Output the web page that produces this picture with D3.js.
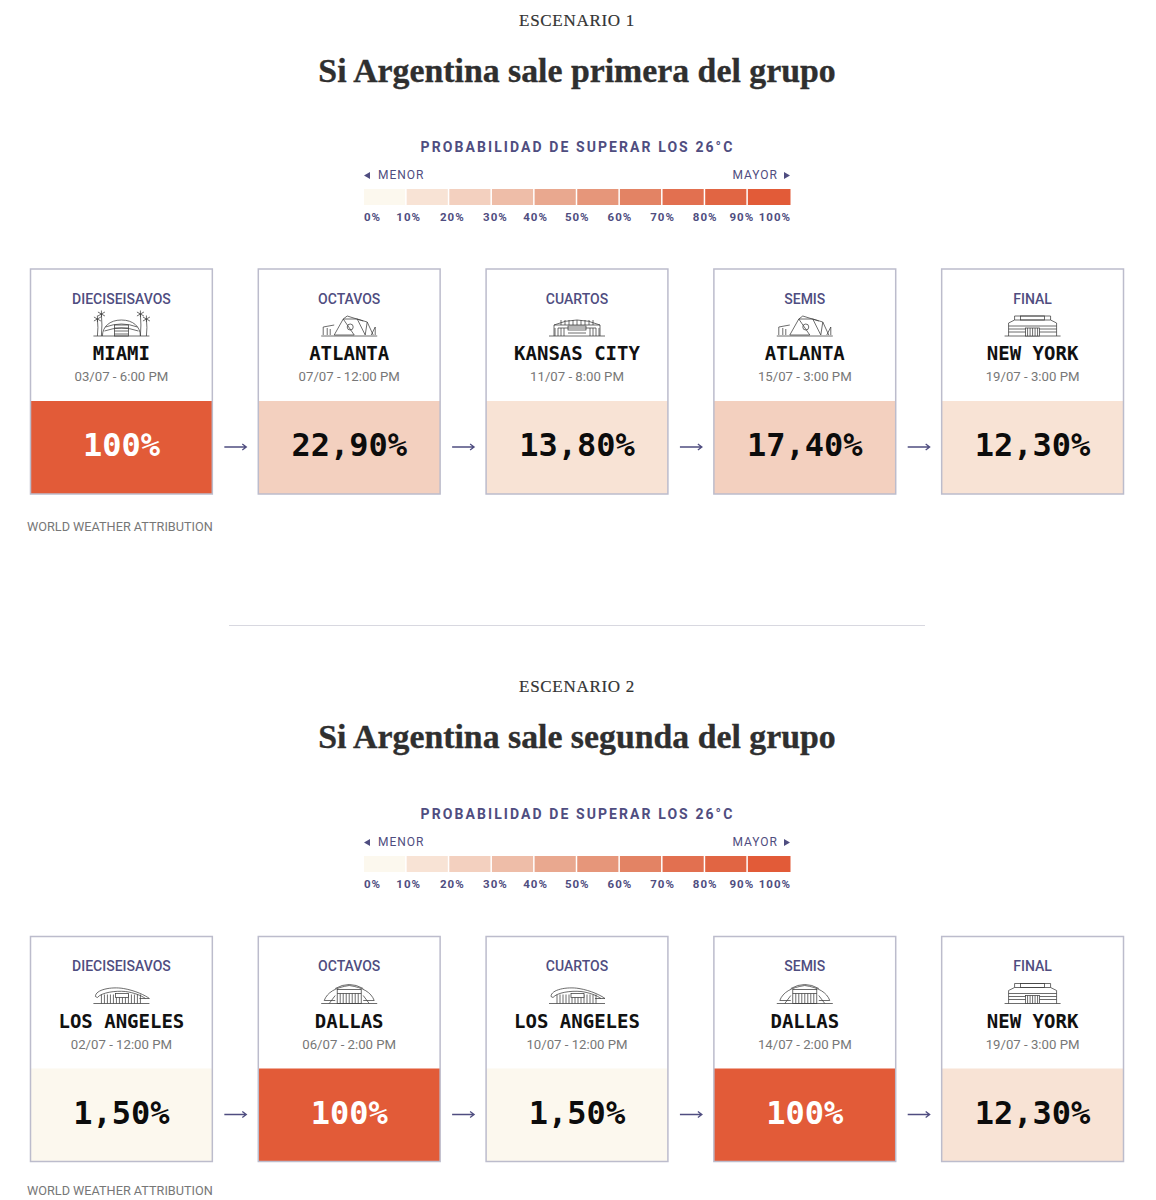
<!DOCTYPE html>
<html>
<head>
<meta charset="utf-8">
<script src="https://cdn.jsdelivr.net/npm/d3@7"></script>
<style>
  body { margin: 0; background: #fff; }
  text { font-family: Roboto, sans-serif; }
  .serif { font-family: "Liberation Serif", serif; }
  .mono { font-family: "DejaVu Sans Mono", monospace; font-weight: 700; }
</style>
</head>
<body>
<div id="chart"></div>
<script>
var width = 1156;
var height = 1200;

var rounds = ["DIECISEISAVOS", "OCTAVOS", "CUARTOS", "SEMIS", "FINAL"];

var scenarioLabels = ["ESCENARIO 1", "ESCENARIO 2"];
var scenarioTitles = ["Si Argentina sale primera del grupo", "Si Argentina sale segunda del grupo"];

var cities1 = ["MIAMI", "ATLANTA", "KANSAS CITY", "ATLANTA", "NEW YORK"];
var dates1 = ["03/07 - 6:00 PM", "07/07 - 12:00 PM", "11/07 - 8:00 PM", "15/07 - 3:00 PM", "19/07 - 3:00 PM"];
var values1 = [100, 22.9, 13.8, 17.4, 12.3];

var cities2 = ["LOS ANGELES", "DALLAS", "LOS ANGELES", "DALLAS", "NEW YORK"];
var dates2 = ["02/07 - 12:00 PM", "06/07 - 2:00 PM", "10/07 - 12:00 PM", "14/07 - 2:00 PM", "19/07 - 3:00 PM"];
var values2 = [1.5, 100, 1.5, 100, 12.3];

var legendTicks = [0, 10, 20, 30, 40, 50, 60, 70, 80, 90, 100];
var legendColors = ["#fcf8ee", "#f8e3d5", "#f3d0bf", "#eebda8", "#e9a88f", "#e6967a", "#e38364", "#e27050", "#e16543", "#e25b38"];

var navy = "#4f4d80";
var grey = "#777";
var ink = "#2f2f2f";

var svg = d3
  .select("#chart")
  .append("svg")
  .attr("width", width)
  .attr("height", height)
  .style("display", "block");

var cardX = d3.scaleBand().domain(d3.range(5)).range([30.5, 1123.5]).paddingInner(0.2018).paddingOuter(0);
var legendX = d3.scaleLinear().domain([0, 100]).range([364, 790.5]);
// the cards use the nearest legend step, not the bin they fall in
var cardColor = d3.scaleThreshold().domain([5, 15, 25, 35, 45, 55, 65, 75, 85]).range(legendColors);

var esLocale = d3.formatLocale({ decimal: ",", thousands: ".", grouping: [3], currency: ["", "%"] });
var twoDec = esLocale.format(".2f");
function formatValue(v) {
  return v === 100 ? "100%" : twoDec(v) + "%";
}

function drawHeader(g, i) {
  g.append("text")
    .attr("class", "serif")
    .attr("x", 577)
    .attr("y", 26)
    .attr("text-anchor", "middle")
    .attr("font-size", 17)
    .attr("letter-spacing", 0.7)
    .attr("fill", "#333")
    .attr("stroke", "#333")
    .attr("stroke-width", 0.2)
    .text(scenarioLabels[i]);
  g.append("text")
    .attr("class", "serif")
    .attr("x", 577)
    .attr("y", 82)
    .attr("text-anchor", "middle")
    .attr("font-size", 33.8)
    .attr("font-weight", 700)
    .attr("fill", ink)
    .attr("stroke", ink)
    .attr("stroke-width", 0.35)
    .text(scenarioTitles[i]);
}

function drawLegend(g) {
  g.append("text")
    .attr("x", 577.5)
    .attr("y", 151.5)
    .attr("text-anchor", "middle")
    .attr("font-size", 14)
    .attr("font-weight", 700)
    .attr("letter-spacing", 2.08)
    .attr("fill", navy)
    .text("PROBABILIDAD DE SUPERAR LOS 26°C");

  g.append("text").attr("x", 378).attr("y", 179).attr("font-size", 12).attr("letter-spacing", 1).attr("fill", navy).text("MENOR");
  g.append("text").attr("x", 778).attr("y", 179).attr("text-anchor", "end").attr("font-size", 12).attr("letter-spacing", 1).attr("fill", navy).text("MAYOR");
  g.append("path").attr("d", "M364 175.5l6-3.5v7z").attr("fill", navy);
  g.append("path").attr("d", "M790 175.5l-6-3.5v7z").attr("fill", navy);

  g.selectAll("rect.step")
    .data(legendColors)
    .enter()
    .append("rect")
    .attr("class", "step")
    .attr("x", function(d, i) { return legendX(legendTicks[i]); })
    .attr("y", 189)
    .attr("width", function(d, i) { return legendX(legendTicks[i + 1]) - legendX(legendTicks[i]) - (i < 9 ? 1.5 : 0); })
    .attr("height", 16)
    .attr("fill", function(d) { return d; });

  // tick labels sit a little off the step edges in the original
  var nudge = { 10: 2, 20: 3, 30: 3.5, 40: 1, 90: -6 };
  g.selectAll("text.tick")
    .data(legendTicks)
    .enter()
    .append("text")
    .attr("class", "tick")
    .attr("x", function(d) { return legendX(d) + (nudge[d] || 0) + (d === 100 ? 0.5 : 0); })
    .attr("y", 221)
    .attr("text-anchor", function(d) { return d === 0 ? "start" : d === 100 ? "end" : "middle"; })
    .attr("font-size", 11.5)
    .attr("font-weight", 700)
    .attr("letter-spacing", 1)
    .attr("fill", navy)
    .text(function(d) { return d + "%"; });
}

// small line drawings of each stadium, centred on x = 0 with the ground at y = 0
function stadium(g, city) {
  var p = g.append("g").attr("fill", "none").attr("stroke", "#3c3c3c").attr("stroke-width", 0.75);
  function line(d) { p.append("path").attr("d", d); }
  function columns(x0, x1, step, y0, y1) {
    d3.range(x0, x1 + 0.1, step).forEach(function(x) {
      line("M" + x + " " + y0 + "V" + y1);
    });
  }
  line("M-28 0H28");
  if (city === "MIAMI") {
    line("M-19 0C-19 -9 -12 -16 0 -16C12 -16 19 -9 19 0");
    line("M-16 -9Q0 -15 16 -9M-17 -5Q0 -11 17 -5");
    p.append("rect").attr("x", -7).attr("y", -11).attr("width", 14).attr("height", 11);
    line("M-7 -8H7M-7 -5H7M-7 -2H7");
    [[-24, -17], [-20, -22], [19, -22], [25, -17]].forEach(function(t) {
      line("M" + t[0] + " 0Q" + (t[0] + 1) + " " + t[1] / 2 + " " + t[0] + " " + t[1]);
      line("M" + (t[0] - 3.5) + " " + (t[1] + 2) + "L" + (t[0] + 3.5) + " " + (t[1] - 2) + "M" + (t[0] - 3.5) + " " + (t[1] - 2) + "L" + (t[0] + 3.5) + " " + (t[1] + 2) + "M" + t[0] + " " + (t[1] - 3.5) + "V" + (t[1] + 3));
    });
  } else if (city === "ATLANTA") {
    line("M-15 -1L-6 -17L5 -1zM16 -1L8 -17L-6 -17M8 -17L18 -14L24 -1M16 -1L18 -14");
    line("M-6 -17L-2 -20L14 -15");
    p.append("circle").attr("cx", 1).attr("cy", -9).attr("r", 3);
    line("M-26 -1V-9L-15 -11M22 -1L26 -9V-1M-22 -1V-8M-19 -1V-7");
  } else if (city === "KANSAS CITY") {
    line("M-23 0V-11Q0 -21 23 -11V0");
    line("M-23 -11H23M-19 -8H19");
    columns(-16, 16, 4, -16, -11);
    p.append("rect").attr("x", -9).attr("y", -10).attr("width", 18).attr("height", 4);
    columns(-22, -13, 3, -8, 0);
    columns(13, 22, 3, -8, 0);
    line("M-9 -3H9");
  } else if (city === "NEW YORK") {
    line("M-24 0V-13L-18 -16V-20H18V-16L24 -13V0");
    line("M-24 -10H24M-24 -7H24M-24 -4H24M-18 -16H18");
    p.append("rect").attr("x", -12).attr("y", -20).attr("width", 24).attr("height", 4);
    p.append("rect").attr("x", -7).attr("y", -8).attr("width", 14).attr("height", 8).attr("fill", "#fff");
    columns(-5, 5, 2.5, -8, 0);
  } else if (city === "LOS ANGELES") {
    line("M-26 -7C-26 -14 -10 -17 2 -15C14 -13 24 -8 28 -5");
    line("M-24 -6C-20 -11 -6 -13 4 -12C12 -11 20 -8 24 -5M-26 -7L-24 -6");
    line("M28 -5L18 -5");
    columns(-20, 20, 3, -9, 0);
    p.append("rect").attr("x", -6).attr("y", -10).attr("width", 13).attr("height", 4).attr("fill", "#fff");
  } else {
    line("M-25 -3C-22 -11 -14 -16 0 -18C14 -16 22 -11 25 -3");
    line("M-14 -15Q0 -23 14 -15");
    p.append("rect").attr("x", -12).attr("y", -14).attr("width", 24).attr("height", 14);
    line("M-12 -10H12M-25 -3H-14M25 -3H14");
    columns(-9, 9, 3, -10, 0);
    line("M-20 0L-14 -8M20 0L14 -8");
  }
}

function drawCards(g, cities, dates, values) {
  var card = g
    .selectAll("g.card")
    .data(values)
    .enter()
    .append("g")
    .attr("class", "card")
    .attr("transform", function(d, i) { return "translate(" + cardX(i) + ",0)"; });

  var w = cardX.bandwidth();

  card.append("rect")
    .attr("y", 132)
    .attr("width", w)
    .attr("height", 93)
    .attr("fill", function(d) { return cardColor(d); });

  card.append("rect")
    .attr("width", w)
    .attr("height", 225)
    .attr("fill", "none")
    .attr("stroke", "#bcbccc")
    .attr("stroke-width", 1.5);

  card.append("text")
    .attr("x", w / 2)
    .attr("y", 34.5)
    .attr("text-anchor", "middle")
    .attr("font-size", 14)
    .attr("font-weight", 500)
    .attr("fill", navy)
    .text(function(d, i) { return rounds[i]; });

  card.each(function(d, i) {
    var ic = d3.select(this).append("g").attr("transform", "translate(" + w / 2 + ",67)");
    stadium(ic, cities[i]);
  });

  card.append("text")
    .attr("class", "mono")
    .attr("x", w / 2)
    .attr("y", 91)
    .attr("text-anchor", "middle")
    .attr("font-size", 19)
    .attr("fill", "#111")
    .text(function(d, i) { return cities[i]; });

  card.append("text")
    .attr("x", w / 2)
    .attr("y", 112)
    .attr("text-anchor", "middle")
    .attr("font-size", 13.2)
    .attr("fill", grey)
    .text(function(d, i) { return dates[i]; });

  card.append("text")
    .attr("class", "mono")
    .attr("x", w / 2)
    .attr("y", 187)
    .attr("text-anchor", "middle")
    .attr("font-size", 32)
    .attr("fill", function(d) { return d === 100 ? "#fff" : "#0c0c0c"; })
    .text(formatValue);

  // arrows between the cards
  d3.range(4).forEach(function(i) {
    var x0 = cardX(i) + w + 12;
    var x1 = cardX(i + 1) - 12;
    g.append("path")
      .attr("d", "M" + x0 + " 178H" + x1 + "m-4 -3l4 3l-4 3")
      .attr("fill", "none")
      .attr("stroke", navy)
      .attr("stroke-width", 1.3);
  });
}

var scenarios = [
  { cities: cities1, dates: dates1, values: values1, head: 0, legend: 0, cards: 269, source: 531 },
  { cities: cities2, dates: dates2, values: values2, head: 666, legend: 667, cards: 936.5, source: 1195 }
];

scenarios.forEach(function(s, i) {
  drawHeader(svg.append("g").attr("transform", "translate(0," + s.head + ")"), i);
  drawLegend(svg.append("g").attr("transform", "translate(0," + s.legend + ")"));
  drawCards(svg.append("g").attr("transform", "translate(0," + s.cards + ")"), s.cities, s.dates, s.values);
  svg.append("text")
    .attr("x", 27)
    .attr("y", s.source)
    .attr("font-size", 12.7)
    .attr("fill", grey)
    .text("WORLD WEATHER ATTRIBUTION");
});

svg.append("line")
  .attr("x1", 229)
  .attr("x2", 925)
  .attr("y1", 625.5)
  .attr("y2", 625.5)
  .attr("stroke", "#d8d8e0");
</script>
</body>
</html>
